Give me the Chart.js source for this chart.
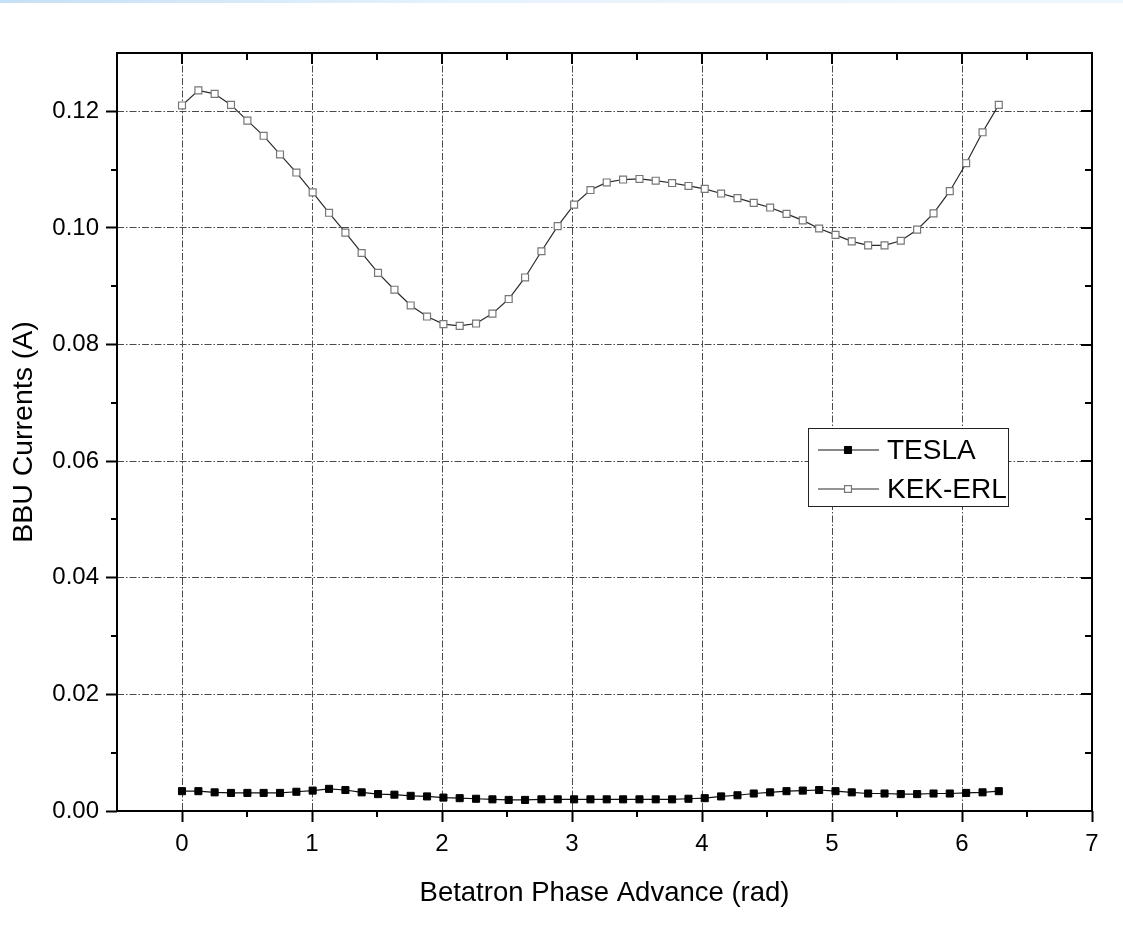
<!DOCTYPE html>
<html>
<head>
<meta charset="utf-8">
<script src="https://cdn.jsdelivr.net/npm/chart.js@4.4.1/dist/chart.umd.min.js"></script>
<style>
html,body{margin:0;padding:0;background:#fff;}
#bar{position:absolute;left:0;top:0;width:1123px;height:3px;background:linear-gradient(to right,#c6e0f5,#e6f2fc 40%,#eef7fe);}
canvas{display:block;}
</style>
</head>
<body>
<div id="bar"></div>
<canvas id="c" width="1123" height="927"></canvas>
<script>
// ---- data ----
const phase = [0, 0.126, 0.251, 0.377, 0.503, 0.628, 0.754, 0.880, 1.005, 1.131,
  1.257, 1.382, 1.508, 1.634, 1.759, 1.885, 2.011, 2.136, 2.262, 2.388,
  2.513, 2.639, 2.765, 2.890, 3.016, 3.142, 3.267, 3.393, 3.519, 3.644,
  3.770, 3.896, 4.021, 4.147, 4.273, 4.398, 4.524, 4.650, 4.775, 4.901,
  5.027, 5.152, 5.278, 5.404, 5.529, 5.655, 5.781, 5.906, 6.032, 6.158, 6.283];

const teslaCurrent = [0.0034, 0.0034, 0.0032, 0.0031, 0.0031, 0.0031, 0.0031, 0.0033, 0.0035, 0.0038,
  0.0036, 0.0032, 0.0029, 0.0028, 0.0026, 0.0025, 0.0023, 0.0022, 0.0021, 0.0020,
  0.0019, 0.0019, 0.0020, 0.0020, 0.0020, 0.0020, 0.0020, 0.0020, 0.0020, 0.0020,
  0.0020, 0.0021, 0.0022, 0.0025, 0.0027, 0.0030, 0.0032, 0.0034, 0.0035, 0.0036,
  0.0034, 0.0032, 0.0030, 0.0030, 0.0029, 0.0029, 0.0030, 0.0030, 0.0031, 0.0032, 0.0034];

const kekCurrent = [0.1210, 0.1236, 0.1230, 0.1211, 0.1184, 0.1158, 0.1126, 0.1095, 0.1061, 0.1026,
  0.0992, 0.0957, 0.0923, 0.0894, 0.0867, 0.0848, 0.0835, 0.0832, 0.0836, 0.0853,
  0.0878, 0.0915, 0.0960, 0.1003, 0.1040, 0.1065, 0.1078, 0.1083, 0.1084, 0.1081,
  0.1077, 0.1072, 0.1067, 0.1059, 0.1051, 0.1043, 0.1035, 0.1024, 0.1013, 0.0999,
  0.0988, 0.0977, 0.0970, 0.0970, 0.0978, 0.0997, 0.1025, 0.1063, 0.1111, 0.1164, 0.1211];

const seriesNames = ['TESLA', 'KEK-ERL'];
const xMajorTicks = [0, 1, 2, 3, 4, 5, 6, 7];
const xMinorTicks = [0.5, 1.5, 2.5, 3.5, 4.5, 5.5, 6.5];
const yMajorTicks = [0, 0.02, 0.04, 0.06, 0.08, 0.10, 0.12];
const yMinorTicks = [0.01, 0.03, 0.05, 0.07, 0.09, 0.11];
const xRange = [-0.5, 7];
const yRange = [0, 0.13];
const xTitle = 'Betatron Phase Advance (rad)';
const yTitle = 'BBU Currents (A)';

// ---- styles ----
const FONT = '"Liberation Sans", Arial, sans-serif';
const GRID_COLOR = '#4a4a4a';

const toPoints = (xs, ys) => xs.map((x, i) => ({x: x, y: ys[i]}));

// frame, mirrored ticks, minor ticks, legend box
const framePlugin = {
  id: 'frame',
  afterDraw(chart) {
    const {ctx, chartArea: a} = chart;
    const xs = chart.scales.x, ys = chart.scales.y;
    ctx.save();
    ctx.strokeStyle = '#000';
    ctx.lineWidth = 2;
    ctx.setLineDash([]);
    ctx.beginPath();
    xMinorTicks.forEach(v => {
      const px = Math.round(xs.getPixelForValue(v));
      ctx.moveTo(px, a.bottom); ctx.lineTo(px, a.bottom + 6);
      ctx.moveTo(px, a.top); ctx.lineTo(px, a.top + 7);
    });
    xMajorTicks.forEach(v => {
      const px = Math.round(xs.getPixelForValue(v));
      ctx.moveTo(px, a.top); ctx.lineTo(px, a.top + 11);
    });
    yMinorTicks.forEach(v => {
      const py = Math.round(ys.getPixelForValue(v));
      ctx.moveTo(a.left - 6, py); ctx.lineTo(a.left, py);
      ctx.moveTo(a.right, py); ctx.lineTo(a.right - 7, py);
    });
    yMajorTicks.forEach(v => {
      const py = Math.round(ys.getPixelForValue(v));
      ctx.moveTo(a.right, py); ctx.lineTo(a.right - 11, py);
    });
    ctx.stroke();
    ctx.strokeRect(a.left, a.top, a.right - a.left, a.bottom - a.top);

    // legend box
    const bx = 808.5, by = 428.5, bw = 200, bh = 78;
    ctx.fillStyle = '#fff';
    ctx.fillRect(bx, by, bw, bh);
    ctx.lineWidth = 1;
    ctx.strokeStyle = '#222';
    ctx.strokeRect(bx, by, bw, bh);
    chart.data.datasets.forEach((ds, i) => {
      const y = 450 + i * 39;
      ctx.strokeStyle = ds.borderColor;
      ctx.lineWidth = 1;
      ctx.beginPath();
      ctx.moveTo(818, y); ctx.lineTo(879, y);
      ctx.stroke();
      ctx.fillStyle = ds.pointBackgroundColor;
      ctx.strokeStyle = ds.pointBorderColor;
      ctx.lineWidth = ds.pointBorderWidth;
      Chart.helpers.drawPoint(ctx, {pointStyle: 'rect', radius: ds.pointRadius, borderWidth: ds.pointBorderWidth, rotation: 0}, 848, y);
      ctx.fillStyle = '#000';
      ctx.font = '28px ' + FONT;
      ctx.textBaseline = 'middle';
      ctx.textAlign = 'left';
      ctx.fillText(ds.label, 887, y + 1);
    });
    ctx.restore();
  }
};

new Chart(document.getElementById('c'), {
  type: 'line',
  data: {
    datasets: [
      {
        label: seriesNames[0],
        data: toPoints(phase, teslaCurrent),
        borderColor: '#111',
        borderWidth: 1.2,
        pointStyle: 'rect',
        pointRadius: 5,
        pointBackgroundColor: '#000',
        pointBorderColor: '#000',
        pointBorderWidth: 1,
        tension: 0,
        fill: false
      },
      {
        label: seriesNames[1],
        data: toPoints(phase, kekCurrent),
        borderColor: '#2a2a2a',
        borderWidth: 1.2,
        pointStyle: 'rect',
        pointRadius: 4.9,
        pointBackgroundColor: '#fff',
        pointBorderColor: '#777',
        pointBorderWidth: 1.2,
        tension: 0,
        fill: false
      }
    ]
  },
  options: {
    responsive: false,
    animation: false,
    devicePixelRatio: 1,
    layout: {padding: {left: 0, right: 31, top: 53, bottom: 0}},
    plugins: {legend: {display: false}, tooltip: {enabled: false}},
    scales: {
      x: {
        type: 'linear',
        position: 'bottom',
        min: xRange[0],
        max: xRange[1],
        afterBuildTicks: s => { s.ticks = xMajorTicks.map(v => ({value: v})); },
        afterFit: s => { s.height = 116; },
        grid: {
          color: c => (c.tick && c.tick.value === 7) ? 'rgba(0,0,0,0)' : GRID_COLOR,
          lineWidth: 1,
          tickLength: 11,
          tickColor: '#000',
          tickWidth: 2
        },
        border: {display: false, dash: [7, 2, 1.5, 2]},
        ticks: {
          color: '#000',
          font: {family: FONT, size: 24},
          padding: 8,
          maxRotation: 0,
          callback: v => String(v)
        },
        title: {
          display: true,
          text: xTitle,
          color: '#000',
          font: {family: FONT, size: 27.5},
          padding: {top: 0, bottom: 17}
        }
      },
      y: {
        type: 'linear',
        position: 'left',
        min: yRange[0],
        max: yRange[1],
        afterBuildTicks: s => { s.ticks = yMajorTicks.map(v => ({value: v})); },
        afterFit: s => { s.width = 117; },
        grid: {
          color: c => (c.tick && c.tick.value === 0) ? 'rgba(0,0,0,0)' : GRID_COLOR,
          lineWidth: 1,
          tickLength: 11,
          tickColor: '#000',
          tickWidth: 2
        },
        border: {display: false, dash: [7, 2, 1.5, 2]},
        ticks: {
          color: '#000',
          font: {family: FONT, size: 24},
          padding: 7,
          callback: v => Number(v).toFixed(2)
        },
        title: {
          display: true,
          text: yTitle,
          color: '#000',
          font: {family: FONT, size: 28.5},
          padding: {top: 7, bottom: 0}
        }
      }
    }
  },
  plugins: [framePlugin]
});
</script>
</body>
</html>
